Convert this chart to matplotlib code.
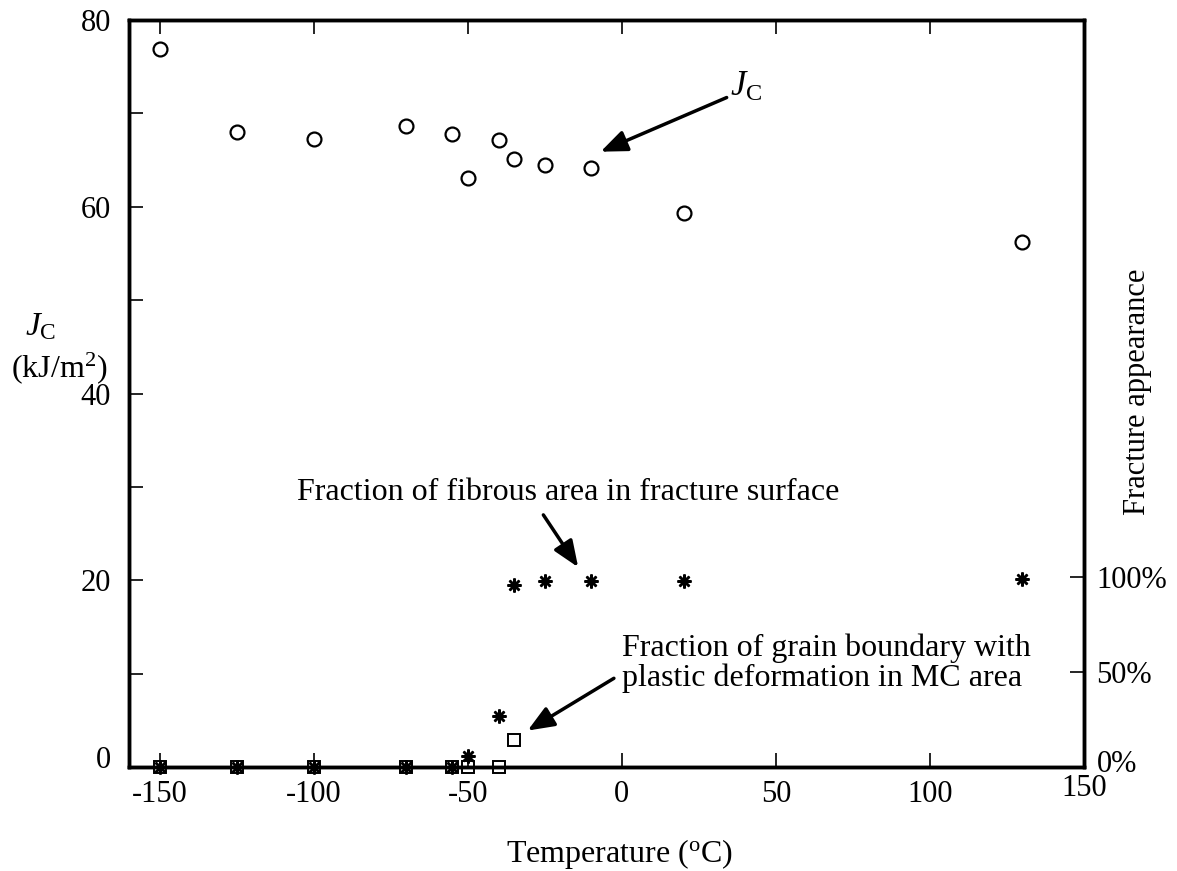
import numpy as np
import matplotlib.pyplot as plt
import matplotlib.transforms as mtransforms

plt.rcParams['font.family'] = ['Liberation Serif', 'DejaVu Serif']
plt.rcParams['mathtext.fontset'] = 'custom'
plt.rcParams['mathtext.rm'] = 'Liberation Serif'
plt.rcParams['mathtext.it'] = 'Liberation Serif:italic'

###############################################

# J_C (kJ/m^2) vs temperature
T_jc = [-150, -125, -100, -70, -55, -50, -40, -35, -25, -10, 20, 130]
Jc = [76.9, 68.0, 67.3, 68.7, 67.8, 63.1, 67.2, 65.1, 64.5, 64.2, 59.3, 56.2]

# fracture appearance (%)
T_fr = [-150, -125, -100, -70, -55, -50, -40, -35, -25, -10, 20, 130]
fibrous = [0, 0, 0, 0, 0, 6, 27, 96, 98, 98, 98, 99]

T_gb = [-150, -125, -100, -70, -55, -50, -40, -35]
grain = [0, 0, 0, 0, 0, 0, 0, 14]

###############################################

fig = plt.figure(figsize=(11.77, 8.71), dpi=100)
ax = fig.add_axes([0.1096, 0.1194, 0.8114, 0.8576])
ax2 = ax.twinx()

ax.plot(T_jc, Jc, 'o', mfc='white', mec='black', ms=10, mew=1.6, clip_on=False, zorder=5)
ax2.plot(T_gb, grain, 's', mfc='none', mec='black', ms=9, mew=1.4, clip_on=False, zorder=5)
ax2.plot(T_fr, fibrous, marker=(8, 2, 0), ls='none', color='black', ms=10, mew=1.8,
         clip_on=False, zorder=6)

ax.set_xlim(-160, 150)
ax.set_ylim(0, 80)
ax2.set_ylim(0, 393)

ax.set_xticks([-150, -100, -50, 0, 50, 100, 150])
ax.set_xticklabels(['-150', '-100', '-50', '0', '50', '100', '150'])
ax.set_yticks(np.arange(0, 81, 10))
ax.set_yticklabels(['0', '', '20', '', '40', '', '60', '', '80'])
ax2.set_yticks([0, 50, 100])
ax2.set_yticklabels(['0%', '50%', '100%'])

ax.tick_params(axis='both', direction='in', length=10, width=1.2, labelsize=22,
               top=True, right=False)
ax.tick_params(axis='x', pad=9)
ax.tick_params(axis='y', pad=13)
ax2.tick_params(axis='y', direction='in', length=10, width=1.2, labelsize=22, pad=9)
for a in (ax, ax2):
    for s in a.spines.values():
        s.set_linewidth(2.5)

# the reference shifts a few corner tick labels slightly
def shift(label, dy_px):
    off = mtransforms.ScaledTranslation(0, dy_px / 100, fig.dpi_scale_trans)
    label.set_transform(label.get_transform() + off)

shift(ax.get_yticklabels()[0], 10)
shift(ax.get_xticklabels()[-1], 6)
shift(ax2.get_yticklabels()[0], 6)

fig.text(619 / 1177, 1 - 862 / 871, 'Temperature ($^{\\mathrm{o}}$C)', fontsize=23,
         ha='center', va='baseline')
fig.text(41 / 1177, 1 - 335 / 871, '$J_{\\mathrm{C}}$', fontsize=24, ha='center',
         va='baseline')
fig.text(59 / 1177, 1 - 377 / 871, '(kJ/m$^2$)', fontsize=23, ha='center', va='baseline')
fig.text(1138 / 1177, 1 - 392 / 871, 'Fracture appearance', fontsize=22, rotation=90,
         ha='center', va='center')

arrow = dict(arrowstyle='-|>,head_length=1.6,head_width=0.65', color='black', lw=2.5,
             shrinkA=0, shrinkB=0)
ax.annotate('', xy=(-6.9, 65.9), xytext=(34, 71.7), arrowprops=arrow)
ax.text(35, 71.9, '$J_{\\mathrm{C}}$', fontsize=25, ha='left', va='baseline')

ax.annotate('', xy=(-14.2, 21.4), xytext=(-25.5, 27.0), arrowprops=arrow)
ax.text(-17.5, 29.4, 'Fraction of fibrous area in fracture surface', fontsize=23,
        ha='center', va='center')

ax.annotate('', xy=(-30.6, 3.9), xytext=(-2.6, 9.5), arrowprops=arrow)
ax.text(0, 11.1, 'Fraction of grain boundary with\nplastic deformation in MC area',
        fontsize=23, ha='left', va='center', linespacing=1.0)

fig.savefig('out.png', dpi=100)
